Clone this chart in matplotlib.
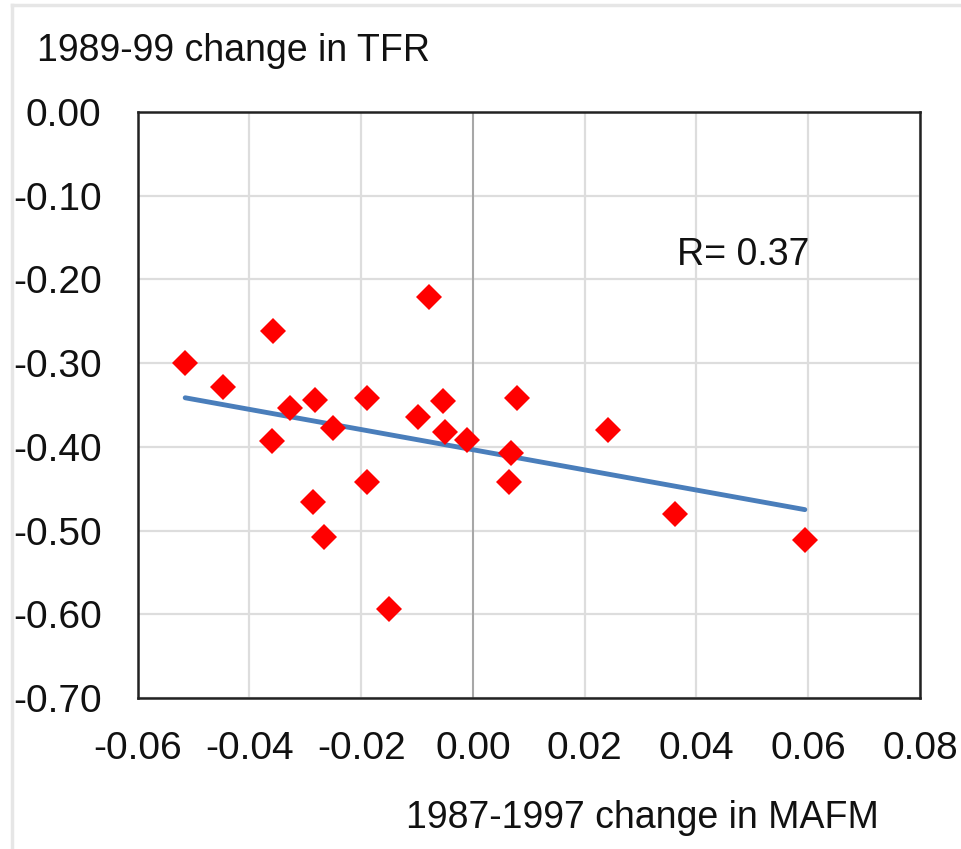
import matplotlib
matplotlib.use("Agg")
import matplotlib.pyplot as plt
import numpy
from matplotlib.lines import Line2D

# change in MAFM (x) vs change in TFR (y), one point per country
mafm_change = [-0.0515, -0.0448, -0.0357, -0.0360, -0.0327, -0.0282, -0.0189, -0.0250,
               -0.0079, -0.0098, -0.0053, -0.0050, -0.0010, 0.0079, 0.0068, 0.0064,
               -0.0189, -0.0286, -0.0267, -0.0150, 0.0241, 0.0361, 0.0594]
tfr_change = [-0.300, -0.329, -0.262, -0.393, -0.354, -0.344, -0.342, -0.378,
              -0.221, -0.364, -0.345, -0.382, -0.392, -0.342, -0.407, -0.442,
              -0.442, -0.466, -0.508, -0.594, -0.380, -0.480, -0.511]
r_value = 0.37

x_ticks = numpy.arange(-0.06, 0.08 + 0.001, 0.02)
y_ticks = numpy.arange(-0.70, 0.0 + 0.001, 0.10)

plt.rcParams['font.family'] = ['Liberation Sans', 'DejaVu Sans']

fig = plt.figure(figsize=(9.61, 8.49), dpi=100)
ax = fig.add_axes([0.1433, 0.1779, 0.8140, 0.6902])

x = numpy.array(mafm_change)
y = numpy.array(tfr_change)

# linear trend line over the data range
slope, intercept = numpy.polyfit(x, y, 1)
x_fit = numpy.array([x.min(), x.max()])
ax.plot(x_fit, slope * x_fit + intercept, color='#4a7ebb', linewidth=3.5,
        solid_capstyle='round', zorder=3)

ax.plot(x, y, 'D', color='#ff0000', markersize=13, markeredgewidth=0, zorder=4)

ax.set_xlim(-0.06, 0.08)
ax.set_ylim(-0.70, 0.0)
ax.set_xticks(x_ticks)
ax.set_yticks(y_ticks)
ax.set_xticklabels(['%.2f' % v if abs(v) > 1e-9 else '0.00' for v in x_ticks])
ax.set_yticklabels(['%.2f' % v if abs(v) > 1e-9 else '0.00' for v in y_ticks])
ax.tick_params(length=0, labelsize=28, colors='#111111')
ax.tick_params(axis='x', pad=24)
ax.tick_params(axis='y', pad=26)

ax.grid(True, color='#dddddd', linewidth=1.6, zorder=0)
ax.set_axisbelow(True)
ax.axvline(0, color='#a6a6a6', linewidth=1.4, zorder=1)

for side in ax.spines.values():
    side.set_color('#222222')
    side.set_linewidth(1.8)

ax.text(0.0365, -0.171, 'R= %.2f' % r_value, fontsize=27, color='#111111',
        ha='left', va='center')

fig.text(0.039, 0.940, '1989-99 change in TFR', fontsize=27, color='#111111',
         ha='left', va='center')
fig.text(0.669, 0.036, '1987-1997 change in MAFM', fontsize=27, color='#111111',
         ha='center', va='center')

# light outer frame of the chart area
fig.add_artist(Line2D([0.012, 0.012], [0.0, 0.994], color='#e6e6e6', linewidth=2.5))
fig.add_artist(Line2D([0.012, 1.0], [0.994, 0.994], color='#e6e6e6', linewidth=2.5))

fig.savefig('out.png', dpi=100)
